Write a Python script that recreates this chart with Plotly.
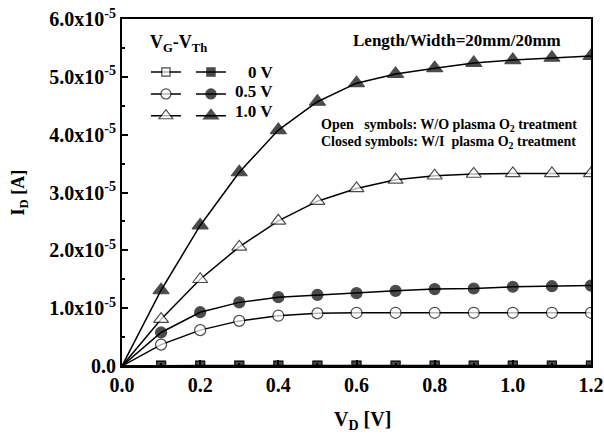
import plotly.graph_objects as go

vd = [0.0, 0.1, 0.2, 0.3, 0.4, 0.5, 0.6, 0.7, 0.8, 0.9, 1.0, 1.1, 1.2]

open_0v = [0, 0, 0, 0, 0, 0, 0, 0, 0, 0, 0, 0, 0]
closed_0v = [0, 0.01e-5, 0.01e-5, 0.01e-5, 0.01e-5, 0.01e-5, 0.01e-5, 0.01e-5, 0.01e-5, 0.01e-5, 0.01e-5, 0.01e-5, 0.01e-5]
open_05v = [0, 0.37e-5, 0.62e-5, 0.78e-5, 0.87e-5, 0.91e-5, 0.92e-5, 0.92e-5, 0.92e-5, 0.92e-5, 0.92e-5, 0.92e-5, 0.92e-5]
closed_05v = [0, 0.58e-5, 0.93e-5, 1.10e-5, 1.19e-5, 1.23e-5, 1.26e-5, 1.30e-5, 1.33e-5, 1.34e-5, 1.37e-5, 1.38e-5, 1.39e-5]
open_10v = [0, 0.81e-5, 1.50e-5, 2.06e-5, 2.51e-5, 2.85e-5, 3.07e-5, 3.22e-5, 3.29e-5, 3.32e-5, 3.33e-5, 3.33e-5, 3.33e-5]
closed_10v = [0, 1.31e-5, 2.43e-5, 3.35e-5, 4.08e-5, 4.57e-5, 4.89e-5, 5.05e-5, 5.15e-5, 5.24e-5, 5.29e-5, 5.33e-5, 5.36e-5]

legend_labels = ["0 V", "0.5 V", "1.0 V"]

x_tickvals = [0.0, 0.2, 0.4, 0.6, 0.8, 1.0, 1.2]
x_ticktext = ["0.0", "0.2", "0.4", "0.6", "0.8", "1.0", "1.2"]
y_tickvals = [0, 1e-5, 2e-5, 3e-5, 4e-5, 5e-5, 6e-5]
y_ticktext = ["0.0", "1.0x10<sup>-5</sup>", "2.0x10<sup>-5</sup>", "3.0x10<sup>-5</sup>",
              "4.0x10<sup>-5</sup>", "5.0x10<sup>-5</sup>", "6.0x10<sup>-5</sup>"]

FONT = "Liberation Serif, Times New Roman, serif"

fig = go.Figure()

def sizes(s):
    return [0] + [s] * (len(vd) - 1)

series = [
    (open_0v, "square", 9, "legend"),
    (open_05v, "circle", 11, "legend"),
    (open_10v, "triangle-up", 13, "legend"),
    (closed_0v, "square", 9, "legend2"),
    (closed_05v, "circle", 11, "legend2"),
    (closed_10v, "triangle-up", 14, "legend2"),
]
for i, (ys, sym, sz, leg) in enumerate(series):
    opn = i < 3
    fig.add_trace(go.Scatter(
        x=vd, y=ys, mode="lines+markers", name="\u00a0", legend=leg,
        line=dict(color="black", width=1.5),
        marker=dict(symbol=sym, size=sizes(sz),
                    color="white" if opn else "black",
                    line=dict(color="black", width=1.2)),
    ))

fig.update_layout(
    width=604, height=439,
    margin=dict(l=122, r=13, t=19, b=73),
    paper_bgcolor="white", plot_bgcolor="white",
    font=dict(family=FONT, color="black", size=15),
    legend=dict(x=0.051, y=0.893, xanchor="left", yanchor="top",
                font=dict(family=FONT, size=14.5, color="black"),
                bgcolor="rgba(0,0,0,0)", itemwidth=30, tracegroupgap=0),
    legend2=dict(x=0.147, y=0.893, xanchor="left", yanchor="top",
                 font=dict(family=FONT, size=14.5, color="black"),
                 bgcolor="rgba(0,0,0,0)", itemwidth=30, tracegroupgap=0),
    xaxis=dict(range=[0, 1.2], tickvals=x_tickvals, ticktext=x_ticktext, automargin=False,
               ticks="inside", ticklen=6, tickwidth=1.5, tickcolor="black",
               minor=dict(dtick=0.1, tick0=0, ticks="inside", ticklen=3, tickcolor="black"),
               showgrid=False, zeroline=False,
               showline=True, linewidth=2, linecolor="black", mirror=True,
               tickfont=dict(family=FONT, size=20, color="black", weight="bold")),
    yaxis=dict(range=[0, 6e-5], tickvals=y_tickvals, ticktext=y_ticktext, automargin=False,
               ticks="inside", ticklen=6, tickwidth=1.5, tickcolor="black",
               minor=dict(dtick=0.5e-5, tick0=0, ticks="inside", ticklen=3, tickcolor="black"),
               showgrid=False, zeroline=False,
               showline=True, linewidth=2, linecolor="black", mirror=True,
               tickfont=dict(family=FONT, size=20, color="black", weight="bold")),
)

# axis titles
fig.add_annotation(xref="paper", yref="paper", x=0.512, y=-0.156, xanchor="center", yanchor="middle",
                   text="<b>V<sub>D</sub> [V]</b>", showarrow=False,
                   font=dict(family=FONT, size=20, color="black"))
fig.add_annotation(xref="paper", yref="paper", x=-0.2175, y=0.5, xanchor="center", yanchor="middle",
                   text="<b>I<sub>D</sub> [A]</b>", showarrow=False, textangle=-90,
                   font=dict(family=FONT, size=18, color="black"))

# legend title and labels
fig.add_annotation(xref="paper", yref="paper", x=0.055, y=0.93, xanchor="left", yanchor="middle",
                   text="<b>V<sub>G</sub>-V<sub>Th</sub></b>", showarrow=False,
                   font=dict(family=FONT, size=18, color="black"))
for lab, yp in zip(legend_labels, [0.847, 0.790, 0.732]):
    fig.add_annotation(xref="paper", yref="paper", x=0.327, y=yp, xanchor="right", yanchor="middle",
                       text="<b>" + lab + "</b>", showarrow=False,
                       font=dict(family=FONT, size=17, color="black"))

fig.add_annotation(xref="paper", yref="paper", x=0.94, y=0.939, xanchor="right", yanchor="middle",
                   text="<b>Length/Width=20mm/20mm</b>", showarrow=False,
                   font=dict(family=FONT, size=17, color="black"))
fig.add_annotation(xref="paper", yref="paper", x=0.42, y=0.6945, xanchor="left", yanchor="middle",
                   text="Open\u00a0\u00a0\u00a0symbols: W/O plasma O<sub>2</sub> treatment", showarrow=False,
                   font=dict(family=FONT, size=14, color="black", weight="bold"))
fig.add_annotation(xref="paper", yref="paper", x=0.42, y=0.6455, xanchor="left", yanchor="middle",
                   text="Closed symbols: W/I\u00a0\u00a0plasma O<sub>2</sub> treatment", showarrow=False,
                   font=dict(family=FONT, size=14, color="black", weight="bold"))

fig.write_html("out.html", config={"displayModeBar": False},
               post_script="document.body.style.margin='0';document.body.style.padding='0';")
